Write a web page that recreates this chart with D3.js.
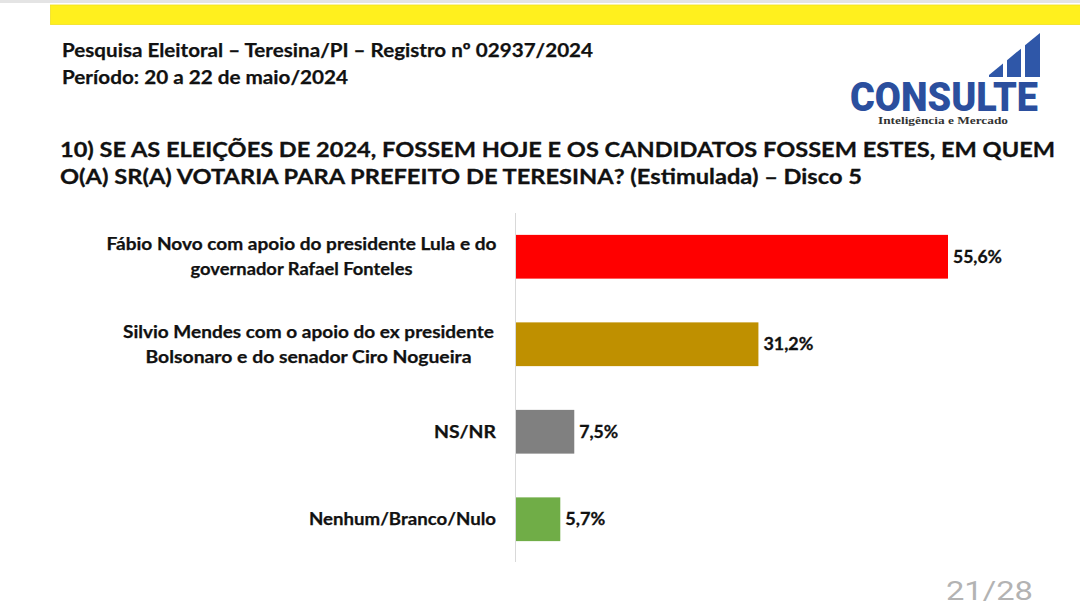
<!DOCTYPE html>
<html>
<head>
<meta charset="utf-8">
<script src="https://cdn.jsdelivr.net/npm/d3@7"></script>
<style>
  html, body { margin: 0; padding: 0; background: #fff; }
  svg { display: block; }
</style>
</head>
<body>
<svg id="chart" width="1080" height="607"></svg>
<script>
// ---- data ----
const headerLines = ["Pesquisa Eleitoral \u2013 Teresina/PI \u2013 Registro n\u00ba 02937/2024", "Per\u00edodo: 20 a 22 de maio/2024"];
const questionLines = ["10) SE AS ELEI\u00c7\u00d5ES DE 2024, FOSSEM HOJE E OS CANDIDATOS FOSSEM ESTES, EM QUEM", "O(A) SR(A) VOTARIA PARA PREFEITO DE TERESINA? (Estimulada) \u2013 Disco 5"];
const categories = [
  ["F\u00e1bio Novo com apoio do presidente Lula e do", "governador Rafael Fonteles"],
  ["Silvio Mendes com o apoio do ex presidente", "Bolsonaro e do senador Ciro Nogueira"],
  ["NS/NR"],
  ["Nenhum/Branco/Nulo"]
];
const values = [55.6, 31.2, 7.5, 5.7];
const valueLabels = ["55,6%", "31,2%", "7,5%", "5,7%"];
const colors = ["#FF0000", "#BF9000", "#808080", "#70AD47"];
const logoText = "CONSULTE";
const logoSub = "Intelig\u00eancia e Mercado";
const pageLabel = "21/28";

// ---- drawing ----
(function () {
const svg = d3.select("#chart");
const font = "Lato, 'Open Sans', sans-serif";

// top frame
svg.append("rect").attr("x", 0).attr("y", 0).attr("width", 1080).attr("height", 3).attr("fill", "#e4e4e4");
svg.append("rect").attr("x", 50.5).attr("y", 5).attr("width", 1030).attr("height", 19.5)
  .attr("fill", "#FFF01E").attr("stroke", "#f2e020").attr("stroke-width", 0.8);

// header
const headerWidths = [531, 286];
const headerY = [56.5, 83.5];
headerLines.forEach((t, i) => {
  svg.append("text").attr("x", 62).attr("y", headerY[i])
    .attr("font-family", font).attr("font-weight", 700).attr("font-size", 19.5)
    .attr("fill", "#111").attr("stroke", "#111").attr("stroke-width", 0.25)
    .attr("textLength", headerWidths[i]).attr("lengthAdjust", "spacingAndGlyphs")
    .text(t);
});

// question
const qWidths = [995, 802];
const qY = [157, 184];
questionLines.forEach((t, i) => {
  svg.append("text").attr("x", 60).attr("y", qY[i])
    .attr("font-family", font).attr("font-weight", 700).attr("font-size", 21.5)
    .attr("fill", "#111").attr("stroke", "#111").attr("stroke-width", 0.3)
    .attr("textLength", qWidths[i]).attr("lengthAdjust", "spacingAndGlyphs")
    .text(t);
});

// logo
const logo = svg.append("g");
const bx = [989, 1007, 1025];
const bw = [14, 14, 15];
const diagTop = (xx) => 75 - (xx - 989) * (42 / 51);
bx.forEach((x0, i) => {
  const x1 = x0 + bw[i];
  logo.append("path")
    .attr("d", `M${x0},77 L${x0},${diagTop(x0)} L${x1},${diagTop(x1)} L${x1},77 Z`)
    .attr("fill", "#2F57A8");
});
logo.append("text").attr("x", 850).attr("y", 111)
  .attr("font-family", "Roboto, 'DejaVu Sans', sans-serif").attr("font-weight", 900).attr("font-size", 40)
  .attr("fill", "#2B4F9E").attr("textLength", 188).attr("lengthAdjust", "spacingAndGlyphs")
  .text(logoText);
logo.append("text").attr("x", 878).attr("y", 124)
  .attr("font-family", "'Liberation Serif', serif").attr("font-weight", 700).attr("font-size", 10)
  .attr("fill", "#333").attr("textLength", 130).attr("lengthAdjust", "spacingAndGlyphs")
  .text(logoSub);

// scales
const x = d3.scaleLinear().domain([0, d3.max(values)]).range([516, 948]);
const y = d3.scaleBand().domain(d3.range(values.length)).range([213, 563]).paddingInner(0.5).paddingOuter(0.25);

// axis line
svg.append("line").attr("x1", 515.5).attr("x2", 515.5).attr("y1", 213).attr("y2", 562)
  .attr("stroke", "#d9d9d9").attr("stroke-width", 1);

// bars
svg.selectAll("rect.bar").data(values).join("rect").attr("class", "bar")
  .attr("x", x(0)).attr("y", (d, i) => y(i))
  .attr("width", d => x(d) - x(0)).attr("height", y.bandwidth())
  .attr("fill", (d, i) => colors[i]);

// value labels
const vWidths = [49, 50, 39, 40];
svg.selectAll("text.val").data(values).join("text").attr("class", "val")
  .attr("x", d => x(d) + 5).attr("y", (d, i) => y(i) + y.bandwidth() / 2 + 6)
  .attr("font-family", font).attr("font-weight", 700).attr("font-size", 16.5)
  .attr("fill", "#111").attr("stroke", "#111").attr("stroke-width", 0.3)
  .attr("textLength", (d, i) => vWidths[i]).attr("lengthAdjust", "spacingAndGlyphs")
  .text((d, i) => valueLabels[i]);

// category labels
const catWidths = [[390, 222], [371, 326], [62], [187]];
const catCenters = [301.5, 308.5];
categories.forEach((lines, i) => {
  const cy = y(i) + y.bandwidth() / 2;
  lines.forEach((t, j) => {
    const multi = lines.length > 1;
    const ty = multi ? cy - 12.5 + 25 * j + 6 : cy + 6;
    svg.append("text")
      .attr("x", multi ? catCenters[i] : 496)
      .attr("y", ty)
      .attr("text-anchor", multi ? "middle" : "end")
      .attr("font-family", font).attr("font-weight", 700).attr("font-size", 16.5)
      .attr("fill", "#111").attr("stroke", "#111").attr("stroke-width", 0.25)
      .attr("textLength", catWidths[i][j]).attr("lengthAdjust", "spacingAndGlyphs")
      .text(t);
  });
});

// page number
svg.append("text").attr("x", 946).attr("y", 600)
  .attr("font-family", "Roboto, sans-serif").attr("font-size", 26)
  .attr("fill", "#b3b3b3").attr("textLength", 87).attr("lengthAdjust", "spacingAndGlyphs")
  .text(pageLabel);
})();
</script>
</body>
</html>
